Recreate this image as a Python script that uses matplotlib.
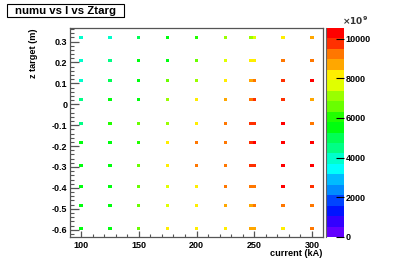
import colorsys
import matplotlib
matplotlib.use("Agg")
import matplotlib.pyplot as plt
import numpy as np
from matplotlib.colors import ListedColormap, BoundaryNorm
from matplotlib.patches import Rectangle
from matplotlib.ticker import MultipleLocator, FixedLocator, FuncFormatter

plt.rcParams['font.family'] = ['Liberation Sans', 'DejaVu Sans']
plt.rcParams['font.weight'] = 'bold'
plt.rcParams['axes.unicode_minus'] = False

# current bins (kA); the 250 kA setting falls across two bins
currents = [100, 125, 150, 175, 200, 225, 247.3, 250.2, 275, 300]
# z target rows (m), top to bottom
ztarg = [0.319, 0.209, 0.113, 0.024, -0.091, -0.184, -0.292, -0.394, -0.483, -0.595]

# numu flux (x1e9) per z row, one value per current bin
flux_z1 = [3950, 3950, 5000, 5530, 6050, 7110, 7110, 7630, 8160, 8690]
flux_z2 = [3950, 4480, 5530, 5530, 6580, 7630, 8160, 8160, 9210, 9210]
flux_z3 = [3950, 5000, 5530, 6580, 7110, 8160, 8690, 9210, 9740, 10270]
flux_z4 = [4480, 5530, 5530, 7110, 8160, 8690, 9210, 9740, 9740, 8690]
flux_z5 = [4480, 6050, 6580, 7110, 8160, 9210, 9740, 9740, 10270, 9210]
flux_z6 = [5530, 5530, 6050, 8160, 9210, 9210, 9740, 10270, 10270, 10270]
flux_z7 = [5530, 5530, 6580, 8160, 9210, 9210, 9740, 9740, 10270, 10270]
flux_z8 = [5530, 5530, 6580, 7630, 8160, 9210, 9210, 9210, 10270, 9740]
flux_z9 = [5530, 5530, 6580, 7630, 8160, 8690, 8690, 9210, 9210, 9210]
flux_z10 = [5530, 5530, 6580, 8160, 8160, 8160, 8690, 8690, 8160, 9210]

flux = np.array([flux_z1, flux_z2, flux_z3, flux_z4, flux_z5,
                 flux_z6, flux_z7, flux_z8, flux_z9, flux_z10])

zmax = 10530
cb_ticks = [0, 2000, 4000, 6000, 8000, 10000]

# ROOT-like rainbow palette (50 colours), 20 contour levels
ncont = 20
cores = []
for k in range(ncont):
    idx = int((k + 0.99) * 50 / ncont)
    hue = 280 - (idx + 1) * 280 / 50.0
    cores.append(colorsys.hls_to_rgb(hue / 360.0, 0.5, 1.0))
cmap = ListedColormap(cores)
norm = BoundaryNorm(np.linspace(0, zmax, ncont + 1), ncont)

W, H = 394, 267
fig = plt.figure(figsize=(W / 100, H / 100), dpi=100)
ax = fig.add_axes([70 / W, 1 - 237 / H, 253 / W, 209 / H])
cax = fig.add_axes([326 / W, 1 - 237 / H, 18 / W, 209 / H])

# cells
dx, dz = 2.9, 0.014
for i, z in enumerate(ztarg):
    for j, c in enumerate(currents):
        ax.bar(c, dz, width=dx, bottom=z - dz / 2, color=cmap(norm(flux[i, j])),
               linewidth=0, align='center')

ax.set_xlim(90.5, 309.5)
ax.set_ylim(-0.635, 0.365)

ax.xaxis.set_major_locator(MultipleLocator(50))
ax.xaxis.set_minor_locator(MultipleLocator(10))
ax.yaxis.set_major_locator(FixedLocator(np.round(np.arange(-0.6, 0.31, 0.1), 2)))
ax.yaxis.set_minor_locator(MultipleLocator(0.02))
ax.yaxis.set_major_formatter(FuncFormatter(lambda v, p: f'{round(v, 2) + 0.0:g}'))

ax.tick_params(axis='both', which='both', direction='in', color='#555',
               labelsize=6.5, top=False, right=False)
ax.tick_params(axis='y', which='major', length=6.5, width=0.9, pad=2)
ax.tick_params(axis='y', which='minor', length=3, width=0.8)
ax.tick_params(axis='x', which='major', length=4.5, width=0.9, pad=3)
ax.tick_params(axis='x', which='minor', length=2.5, width=0.8)
for s in ax.spines.values():
    s.set_color('#555')
    s.set_linewidth(0.9)

# colour bar
cb = fig.colorbar(plt.cm.ScalarMappable(norm=norm, cmap=cmap), cax=cax)
cb.set_ticks(cb_ticks)
cb.ax.set_yticklabels([str(t) for t in cb_ticks])
cb.ax.minorticks_off()
cb.outline.set_visible(False)
cax.plot([0, 0], [0, 1], color='#666', lw=0.8, transform=cax.transAxes, clip_on=False)
cax.tick_params(direction='in', length=6, width=0.8, color='black', labelsize=6.5, pad=1)
fig.text(342 / W, 1 - 21 / H, r'$\times10^{9}$', fontsize=6.5, ha='left', va='center',
         color='#333')

# axis titles
fig.text(322 / W, 1 - 254 / H, 'current (kA)', fontsize=6.6, ha='right', va='center')
fig.text(33 / W, 1 - 28 / H, 'z target (m)', fontsize=6.6, rotation=90,
         ha='center', va='top')

# title box with shadow
fig.patches.append(Rectangle((8 / W, 1 - 18 / H), 117 / W, 13 / H, transform=fig.transFigure,
                             facecolor='black', edgecolor='none', zorder=1))
fig.patches.append(Rectangle((7 / W, 1 - 17 / H), 117 / W, 13 / H, transform=fig.transFigure,
                             facecolor='white', edgecolor='black', lw=0.8, zorder=2))
fig.text(65.5 / W, 1 - 10.5 / H, 'numu vs I vs Ztarg', fontsize=8.2, ha='center',
         va='center', zorder=3)

fig.savefig('out.png', dpi=100)
